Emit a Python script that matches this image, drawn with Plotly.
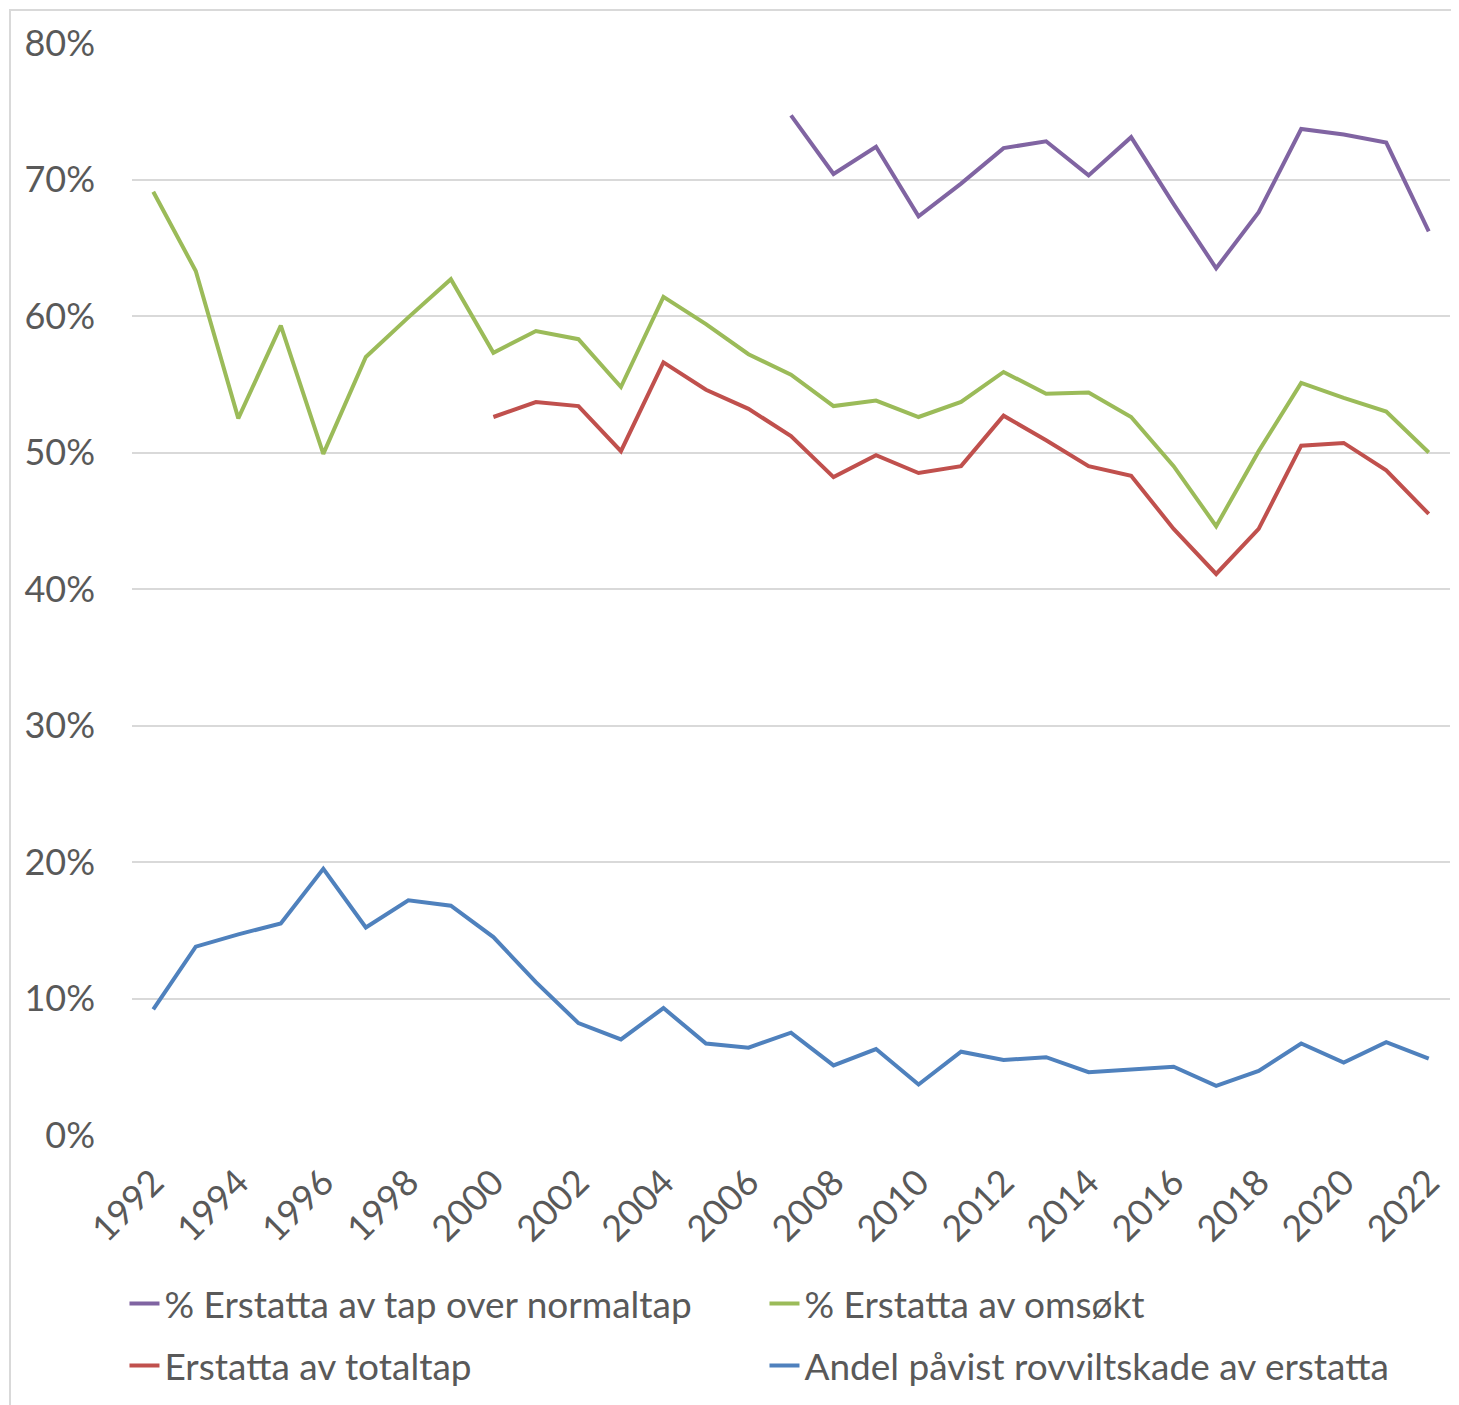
import plotly.graph_objects as go

years = list(range(1992, 2023))

normaltap_years = list(range(2007, 2023))
normaltap = [74.7, 70.4, 72.4, 67.3, 69.7, 72.3, 72.8, 70.3, 73.1, 68.2, 63.5, 67.6, 73.7, 73.3, 72.7, 66.2]

omsokt = [69.1, 63.3, 52.5, 59.3, 49.9, 57.0, 59.9, 62.7, 57.3, 58.9, 58.3, 54.8, 61.4, 59.4, 57.2,
          55.7, 53.4, 53.8, 52.6, 53.7, 55.9, 54.3, 54.4, 52.6, 49.0, 44.6, 50.1, 55.1, 54.0, 53.0, 50.0]

totaltap_years = list(range(2000, 2023))
totaltap = [52.6, 53.7, 53.4, 50.1, 56.6, 54.6, 53.2, 51.2, 48.2, 49.8, 48.5, 49.0, 52.7, 50.9,
            49.0, 48.3, 44.4, 41.1, 44.4, 50.5, 50.7, 48.7, 45.5]

rovvilt = [9.2, 13.8, 14.7, 15.5, 19.5, 15.2, 17.2, 16.8, 14.5, 11.2, 8.2, 7.0, 9.3, 6.7, 6.4,
           7.5, 5.1, 6.3, 3.7, 6.1, 5.5, 5.7, 4.6, 4.8, 5.0, 3.6, 4.7, 6.7, 5.3, 6.8, 5.6]

names = ["% Erstatta av tap over normaltap", "% Erstatta av omsøkt",
         "Erstatta av totaltap", "Andel påvist rovviltskade av erstatta"]
colors = ["#8064A2", "#9BBB59", "#C0504D", "#4F81BD"]
legend_rows = ["legend", "legend", "legend2", "legend2"]

series = [(normaltap_years, normaltap), (years, omsokt), (totaltap_years, totaltap), (years, rovvilt)]

FONT = "Lato, 'Open Sans', sans-serif"
TXT = "#595959"

fig = go.Figure()
for (xs, ys), name, col, lg in zip(series, names, colors, legend_rows):
    fig.add_trace(go.Scatter(
        x=xs, y=[v / 100 for v in ys], name=name, mode="lines",
        line=dict(color=col, width=4), legend=lg,
    ))

legend_common = dict(
    orientation="h", x=-0.0057, xanchor="left", yanchor="middle",
    entrywidth=595, entrywidthmode="pixels",
    font=dict(family=FONT, size=37, color=TXT),
    bgcolor="rgba(0,0,0,0)",
)

fig.update_layout(
    width=1451, height=1397,
    margin=dict(l=124, r=9, t=35, b=269),
    paper_bgcolor="white", plot_bgcolor="white",
    font=dict(family=FONT, size=36, color=TXT),
    showlegend=True,
    legend=dict(y=-0.1537, **legend_common),
    legend2=dict(y=-0.2104, **legend_common),
    xaxis=dict(
        range=[1991.5, 2022.5], tickmode="array", tickvals=years[::2],
        ticktext=[str(y) for y in years[::2]], tickangle=-45,
        showgrid=False, zeroline=False, showline=False, ticks="",
        ticklabelstandoff=18,
        tickfont=dict(size=36, color=TXT),
    ),
    yaxis=dict(
        range=[0, 0.8], tickmode="array", tickvals=[i / 10 for i in range(9)],
        tickformat=".0%", showgrid=True, gridcolor="#D9D9D9", gridwidth=2,
        zeroline=False, showline=False, ticks="", ticklabelstandoff=36,
        tickfont=dict(size=36, color=TXT),
    ),
    shapes=[dict(type="rect", xref="paper", yref="paper",
                 x0=-122 / 1318, x1=1.2, y0=-1.0, y1=1 + 33 / 1093,
                 line=dict(color="#D9D9D9", width=2), fillcolor="rgba(0,0,0,0)", layer="below")],
)

fig.write_html("out.html")
